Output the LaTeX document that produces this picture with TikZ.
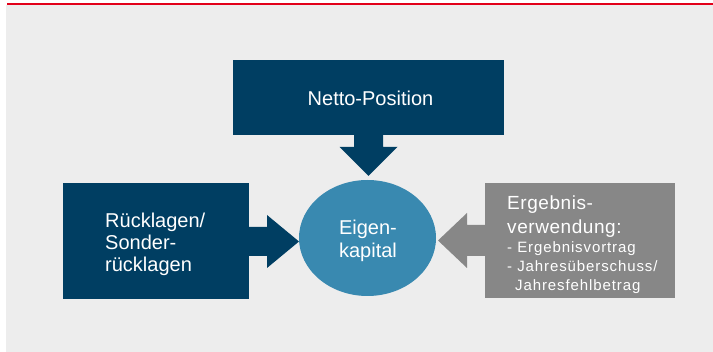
\documentclass[tikz,border=0pt]{standalone}
\usepackage{fontspec}
\setmainfont{Liberation Sans}
\usetikzlibrary{shapes.geometric}
\definecolor{bgray}{RGB}{237,237,237}
\definecolor{topred}{RGB}{226,0,26}
\definecolor{dblue}{RGB}{0,62,98}
\definecolor{cblue}{RGB}{57,137,176}
\definecolor{mgray}{RGB}{135,135,135}
\tikzset{
  blockbox/.style={rectangle, inner sep=0pt, outer sep=0pt},
  lbl/.style={anchor=base west, inner sep=0pt, text=white},
  clbl/.style={anchor=base, inner sep=0pt, text=white},
  big/.style={font=\fontsize{20}{24}\selectfont},
  mid/.style={font=\addfontfeatures{LetterSpace=3}\fontsize{19}{24}\selectfont},
  small/.style={font=\addfontfeatures{LetterSpace=6}\fontsize{15}{19}\selectfont},
}
\begin{document}
\begin{tikzpicture}[x=1pt,y=-1pt]
\useasboundingbox (0,0) rectangle (713,352);
\fill[white] (0,0) rectangle (713,352);
\fill[bgray] (6,5) rectangle (713,352);
\fill[topred] (6.5,3) rectangle (713,5.2);

% boxes
\node[blockbox, fill=dblue, minimum width=271pt, minimum height=75pt] (netto) at (368.5,97.5) {};
\node[blockbox, fill=dblue, minimum width=186pt, minimum height=116pt] (ruck) at (156,241) {};
\node[blockbox, fill=mgray, minimum width=190pt, minimum height=115pt] (erg) at (580,240.5) {};
\node[ellipse, draw=none, fill=cblue, minimum width=137pt, minimum height=116pt, inner sep=0pt, outer sep=0pt] (ek) at (367.5,238) {};

% block arrows
\fill[dblue] ([xshift=-14.5pt]netto.south) -- ([xshift=-14.5pt]netto.south |- 0,147) -- ([xshift=-29pt]netto.south |- 0,147)
  -- (368.5,176) -- ([xshift=29pt]netto.south |- 0,147) -- ([xshift=14.5pt]netto.south |- 0,147) -- ([xshift=14.5pt]netto.south) -- cycle;
\fill[dblue] (ruck.east |- 0,227) -- (267,227) -- (267,215) -- (ek.west |- 0,241.5) -- (267,268) -- (267,256) -- (ruck.east |- 0,256) -- cycle;
\fill[mgray] (erg.west |- 0,225) -- (467,225) -- (467,213) -- (438,240.5) -- (467,268) -- (467,256) -- (erg.west |- 0,256) -- cycle;

% texts
\node[clbl, big] (tn) at (370.5,106) {Netto-Position};

\node[lbl, big] (r1) at (105,227.3) {Rücklagen/};
\node[lbl, big] (r2) at (105,250) {Sonder-};
\node[lbl, big] (r3) at (105,272) {rücklagen};

\node[clbl, big] (e1) at (368,235) {Eigen-};
\node[clbl, big] (e2) at (368,258) {kapital};

\node[lbl, mid] (g1) at (507,209.3) {Ergebnis-};
\node[lbl, mid] (g2) at (507,233.3) {verwendung:};
\node[lbl, small] (g3) at (507,252.7) {- Ergebnisvortrag};
\node[lbl, small] (g4) at (507,271.7) {- Jahresüberschuss/};
\node[lbl, small] (g5) at (515,290.7) {Jahresfehlbetrag};
\end{tikzpicture}
\end{document}
